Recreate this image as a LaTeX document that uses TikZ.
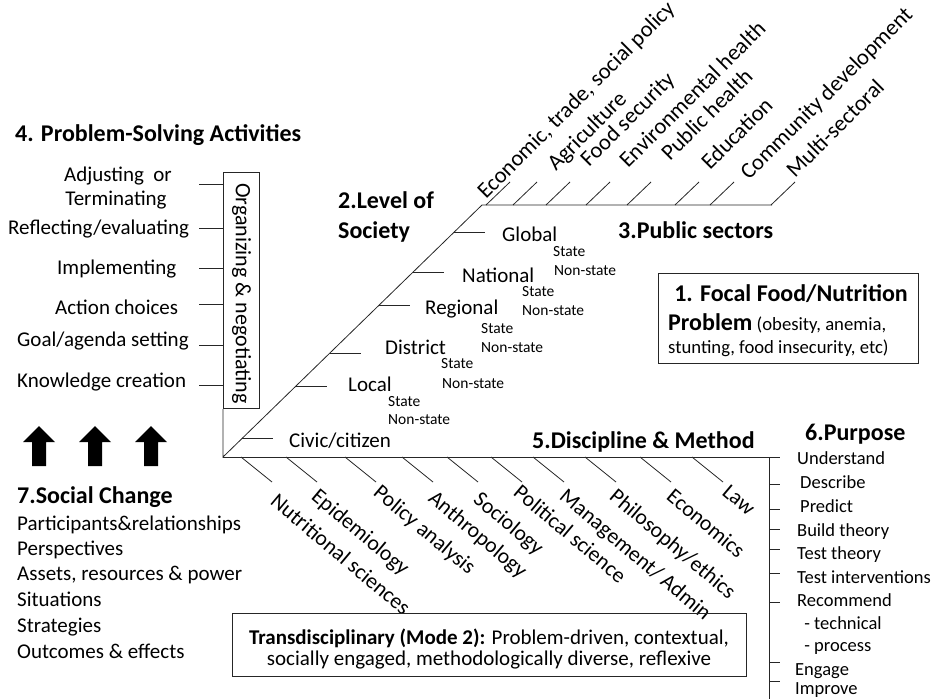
\documentclass[tikz,border=0pt]{standalone}
\usepackage{fontspec}
\setmainfont{Carlito}
\usetikzlibrary{calc}
\newcommand{\fmain}{\fontsize{21pt}{25pt}\selectfont}
\newcommand{\fsect}{\fontsize{22.5pt}{27pt}\selectfont}
\newcommand{\fdisc}{\fontsize{21.8pt}{26pt}\selectfont}
\newcommand{\forg}{\fontsize{22pt}{26pt}\selectfont}
\newcommand{\fhead}{\fontsize{24pt}{29pt}\selectfont\bfseries}
\newcommand{\fsmall}{\fontsize{15.5pt}{18pt}\selectfont}
\newcommand{\fpurp}{\fontsize{18.5pt}{22pt}\selectfont}
\newcommand{\fnote}{\fontsize{18.7pt}{22pt}\selectfont}
\begin{document}
\begin{tikzpicture}[x=1pt,y=-1pt,
  rule/.style={line width=0.8pt, draw=black!85},
  frame/.style={line width=1pt, draw=black!85},
  txt/.style={font=\fmain, inner sep=0pt, anchor=base west},
  head/.style={font=\fhead, inner sep=0pt, anchor=base west},
  sub/.style={font=\fsmall, inner sep=0pt, anchor=base west},
  purp/.style={font=\fpurp, inner sep=0pt, anchor=base west},
  sector/.style={font=\fsect, inner sep=0pt, anchor=base west, rotate=45},
  disc/.style={font=\fdisc, inner sep=0pt, anchor=north west, rotate=-40}
]
\useasboundingbox (0,0) rectangle (935,699);

% ---------- frame of the diagram ----------
\coordinate (O) at (223,457);
\coordinate (D) at (482,205);
\coordinate (Send) at (772,205);
\coordinate (Hend) at (780,457);
\coordinate (Ptop) at (769,457);
\coordinate (Pbot) at (769,699);

\node[frame, minimum width=36pt, minimum height=236pt, inner sep=0pt, anchor=north west] (org) at (223,172) {};
\node[font=\forg, rotate=-90, inner sep=0pt] (orgtext) at ($(org.center)+(0,3)$) {Organizing \& negotiating};

\draw[rule] (org.south west) -- (O) -- (D) -- (Send);
\draw[rule] (O) -- (Hend);
\draw[rule] (Ptop) -- (Pbot);

% ---------- 4. problem-solving activities ----------
\node[head] (pstitle) at (15,141) {4. Problem-Solving Activities};
\node[txt, anchor=base] (ps1a) at (118,181) {Adjusting\ \ or};
\node[txt, anchor=base] (ps1b) at (116,205) {Terminating};
\node[txt] (ps2) at (8,234) {Reflecting/evaluating};
\node[txt] (ps3) at (57,274) {Implementing};
\node[txt] (ps4) at (55,314) {Action choices};
\node[txt] (ps5) at (17,346) {Goal/agenda setting};
\node[txt] (ps6) at (17,387) {Knowledge creation};
\foreach \y in {184,228,268,304,345,385}
  \draw[rule] (199,\y) -- (223,\y);

% ---------- 7. social change ----------
\foreach \cx in {39,95,151}
  \fill[black] (\cx,426) -- (\cx+16,442) -- (\cx+7,442) -- (\cx+7,466)
     -- (\cx-7,466) -- (\cx-7,442) -- (\cx-16,442) -- cycle;
\node[head] (sctitle) at (17,503) {7.Social Change};
\node[txt] (sc1) at (17,530) {Participants\&relationships};
\node[txt] (sc2) at (17,555) {Perspectives};
\node[txt] (sc3) at (17,580) {Assets, resources \& power};
\node[txt] (sc4) at (17,606) {Situations};
\node[txt] (sc5) at (17,632) {Strategies};
\node[txt] (sc6) at (17,658) {Outcomes \& effects};

% ---------- 2. level of society ----------
\node[head] (lvtitle1) at (338,208) {2.Level of};
\node[head] (lvtitle2) at (338,238) {Society};
\foreach \t/\n in {0.893/glob,0.734/nat,0.603/reg,0.413/dist,0.282/loc,0.075/civ}{
  \coordinate (\n) at ($(O)!\t!(D)$);
  \draw[rule] (\n) -- ++(31,0);
}
\node[txt] (lglob) at (502,241) {Global};
\node[txt] (lnat) at (462,282) {National};
\node[txt] (lreg) at (425,314) {Regional};
\node[txt] (ldist) at (385,354) {District};
\node[txt] (lloc) at (348,391) {Local};
\node[txt] (lciv) at (289,447) {Civic/citizen};
\node[sub] at (553,256) {State};
\node[sub] at (554,275) {Non-state};
\node[sub] at (522,296) {State};
\node[sub] at (522,315) {Non-state};
\node[sub] at (481,333) {State};
\node[sub] at (481,352) {Non-state};
\node[sub] at (441,368) {State};
\node[sub] at (442,388) {Non-state};
\node[sub] at (388,406) {State};
\node[sub] at (388,424) {Non-state};

% ---------- 3. public sectors ----------
\node[head] (pubtitle) at (618,238) {3.Public sectors};
\foreach \x in {486,513,546,586,627,675,710,771}
  \draw[rule] (\x,205) -- ++(24,-23);
\node[sector] at (486,200) {Economic, trade, social policy};
\node[sector] at (556,172) {Agriculture};
\node[sector] at (589,168) {Food security};
\node[sector] at (628,169) {Environmental health};
\node[sector] at (670,162) {Public health};
\node[sector] at (710,171) {Education};
\node[sector] at (749,181) {Community development};
\node[sector] at (795,179) {Multi-sectoral};

% ---------- 1. focal problem ----------
\draw[frame] (658,273) rectangle (918,363);
\node[font=\fhead, inner sep=0pt, anchor=base] (focal1) at (791,301) {1. Focal Food/Nutrition};
\node[txt] (focal2) at (668,330) {{\fhead Problem}{\fnote\ (obesity, anemia,}};
\node[txt, font=\fnote] (focal3) at (668,353) {stunting, food insecurity, etc)};

% ---------- 5. discipline & method ----------
\node[head] (disctitle) at (532,448) {5.Discipline \& Method};
\foreach \x in {241,286,345,402,447,491,533,585,640,692}
  \draw[rule] (\x,457) -- ++(31,25);
\node[disc] at (279,492) {Nutritional sciences};
\node[disc] at (320,487) {Epidemiology};
\node[disc] at (382,483) {Policy analysis};
\node[disc] at (437,489) {Anthropology};
\node[disc] at (482,490) {Sociology};
\node[disc] at (522,483) {Political science};
\node[disc] at (568,487) {Management/ Admin};
\node[disc] at (618,487) {Philosophy/ethics};
\node[disc] at (675,487) {Economics};
\node[disc] at (730,483) {Law};

\node[frame, minimum width=514pt, minimum height=63pt, anchor=north west, inner sep=0pt] (trans) at (232,613) {};
\node[txt, anchor=base] (trans1) at (489,644) {\textbf{Transdisciplinary (Mode 2):} Problem-driven, contextual,};
\node[txt, anchor=base] (trans2) at (489,665) {socially engaged, methodologically diverse, reflexive};

% ---------- 6. purpose ----------
\node[head] (purtitle) at (805,440) {6.Purpose};
\foreach \y in {484,509,529,549,573,602,662,681}
  \draw[rule] (769,\y) -- (780,\y);
\node[purp] at (797,464) {Understand};
\node[purp] at (800,488) {Describe};
\node[purp] at (800,512) {Predict};
\node[purp] at (797,536) {Build theory};
\node[purp] at (797,559) {Test theory};
\node[purp] at (797,583) {Test interventions};
\node[purp] at (797,606) {Recommend};
\node[purp] at (800,629) {\ - technical};
\node[purp] at (800,651) {\ - process};
\node[purp] at (795,675) {Engage};
\node[purp] at (795,694) {Improve};
\end{tikzpicture}
\end{document}
